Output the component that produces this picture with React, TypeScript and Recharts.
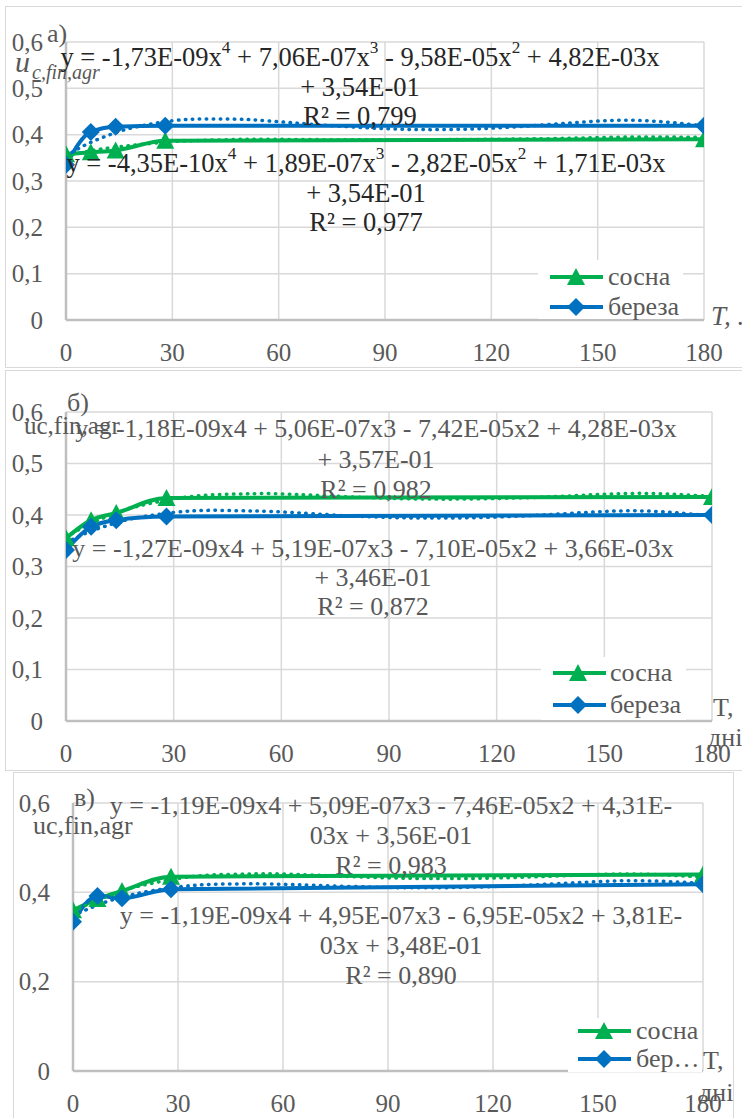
import React from 'react';
import { LineChart, Line, XAxis, YAxis, CartesianGrid, Legend } from 'recharts';

// ---------- data ----------
const days = [0, 7, 14, 28, 180];
const trendDays = [0, 5, 10, 15, 20, 30, 40, 50, 60, 80, 100, 120, 140, 160, 180];
const xTicks = [0, 30, 60, 90, 120, 150, 180];
const yTicksFine = [0, 0.1, 0.2, 0.3, 0.4, 0.5, 0.6];
const yTicksCoarse = [0, 0.2, 0.4, 0.6];
const seriesNames = ['сосна', 'береза'];
const seriesNamesC = ['сосна', 'бер…'];

// panel a)
const pineA = [0.358, 0.362, 0.366, 0.387, 0.39];
const birchA = [0.335, 0.406, 0.417, 0.419, 0.419];
const pineTrendA = [0.354, 0.362, 0.369, 0.374, 0.378, 0.385, 0.388, 0.39, 0.39, 0.389, 0.389, 0.39, 0.392, 0.395, 0.394];
const birchTrendA = [0.354, 0.376, 0.393, 0.407, 0.417, 0.43, 0.434, 0.433, 0.428, 0.417, 0.411, 0.414, 0.424, 0.431, 0.419];
// panel б)
const pineB = [0.355, 0.39, 0.404, 0.433, 0.435];
const birchB = [0.332, 0.377, 0.39, 0.397, 0.4];
const pineTrendB = [0.357, 0.377, 0.393, 0.406, 0.417, 0.431, 0.439, 0.441, 0.441, 0.435, 0.431, 0.432, 0.437, 0.442, 0.436];
const birchTrendB = [0.346, 0.363, 0.376, 0.387, 0.395, 0.405, 0.409, 0.408, 0.406, 0.398, 0.394, 0.396, 0.403, 0.408, 0.398];
// panel в)
const pineC = [0.36, 0.385, 0.403, 0.435, 0.44];
const birchC = [0.334, 0.392, 0.387, 0.407, 0.418];
const pineTrendC = [0.356, 0.376, 0.392, 0.406, 0.416, 0.431, 0.439, 0.441, 0.441, 0.435, 0.431, 0.432, 0.437, 0.441, 0.434];
const birchTrendC = [0.348, 0.365, 0.38, 0.391, 0.4, 0.412, 0.418, 0.419, 0.418, 0.413, 0.41, 0.413, 0.42, 0.426, 0.42];

// trendline equation labels
const eqBirchA = ['y = -1,73E-09x^4 + 7,06E-07x^3 - 9,58E-05x^2 + 4,82E-03x', '+ 3,54E-01', 'R² = 0,799'];
const eqPineA = ['y = -4,35E-10x^4 + 1,89E-07x^3 - 2,82E-05x^2 + 1,71E-03x', '+ 3,54E-01', 'R² = 0,977'];
const eqPineB = ['y = -1,18E-09x4 + 5,06E-07x3 - 7,42E-05x2 + 4,28E-03x', '+ 3,57E-01', 'R² = 0,982'];
const eqBirchB = ['y = -1,27E-09x4 + 5,19E-07x3 - 7,10E-05x2 + 3,66E-03x', '+ 3,46E-01', 'R² = 0,872'];
const eqPineC = ['y = -1,19E-09x4 + 5,09E-07x3 - 7,46E-05x2 + 4,31E-', '03x + 3,56E-01', 'R² = 0,983'];
const eqBirchC = ['y = -1,19E-09x4 + 4,95E-07x3 - 6,95E-05x2 + 3,81E-', '03x + 3,48E-01', 'R² = 0,890'];

// ---------- styles ----------
const GREEN = '#00B050';
const BLUE = '#0070C0';
const GRAY = '#595959';
const FONT = '"Liberation Serif", "Times New Roman", serif';

const toRows = (xs: number[], ys: number[]) => xs.map((x, i) => ({ x, y: ys[i] }));
const fmt = (v: number) => (v === 0 ? '0' : v.toFixed(1).replace('.', ','));

const triPath = (cx: number, cy: number) => `M${cx},${cy - 9} L${cx + 9},${cy + 8} L${cx - 9},${cy + 8} Z`;
const diaPath = (cx: number, cy: number) => `M${cx},${cy - 9} L${cx + 9},${cy} L${cx},${cy + 9} L${cx - 9},${cy} Z`;

const TriDot = (p: any) => {
  if (p.cx == null || p.cy == null) return <g key={p.key} />;
  return <path key={p.key} d={triPath(p.cx, p.cy)} fill={GREEN} />;
};
const DiaDot = (p: any) => {
  if (p.cx == null || p.cy == null) return <g key={p.key} />;
  return <path key={p.key} d={diaPath(p.cx, p.cy)} fill={BLUE} />;
};

const XTick = (p: any) => (
  <text x={p.x} y={p.y} dy={18} textAnchor="middle" fontFamily={FONT} fontSize={25} fill={GRAY}>
    {String(p.payload.value)}
  </text>
);
const YTick = (p: any) => (
  <text x={p.x} y={p.y} dy={8.5} textAnchor="end" fontFamily={FONT} fontSize={25} fill={GRAY}>
    {fmt(p.payload.value)}
  </text>
);

type LegendCfg = { left: number; top: number; width: number; height: number; rows: number[]; x1: number; x2: number; mx: number; tx: number };

const LegendBody = ({ cfg, names }: { cfg: LegendCfg; names: string[] }) => (
  <svg width={cfg.width} height={cfg.height} style={{ display: 'block', overflow: 'visible' }}>
    {[0, 1].map((i) => (
      <g key={i}>
        <line x1={cfg.x1} x2={cfg.x2} y1={cfg.rows[i]} y2={cfg.rows[i]} stroke={i === 0 ? GREEN : BLUE} strokeWidth={4} />
        <path d={i === 0 ? triPath(cfg.mx, cfg.rows[i]) : diaPath(cfg.mx, cfg.rows[i])} fill={i === 0 ? GREEN : BLUE} />
        <text x={cfg.tx} y={cfg.rows[i]} dy={8} fontFamily={FONT} fontSize={26} fill={GRAY}>
          {names[i]}
        </text>
      </g>
    ))}
  </svg>
);

type PanelProps = {
  top: number;
  height: number;
  yAxisWidth: number;
  marginTop: number;
  marginRight: number;
  xAxisHeight: number;
  yTicks: number[];
  pine: number[];
  birch: number[];
  pineTrend: number[];
  birchTrend: number[];
  legend: LegendCfg;
  names: string[];
};

const Panel = (p: PanelProps) => (
  <div style={{ position: 'absolute', left: 0, top: p.top }}>
    <LineChart width={742} height={p.height} margin={{ top: p.marginTop, right: p.marginRight, bottom: 0, left: 0 }}>
      <CartesianGrid stroke="#d9d9d9" strokeWidth={1.5} />
      <XAxis
        dataKey="x"
        type="number"
        domain={[0, 180]}
        ticks={xTicks}
        interval={0}
        height={p.xAxisHeight}
        tickSize={0}
        tickMargin={23}
        tickLine={false}
        axisLine={{ stroke: '#bfbfbf', strokeWidth: 2.5 }}
        tick={<XTick />}
        allowDataOverflow
      />
      <YAxis
        type="number"
        domain={[0, 0.6]}
        ticks={p.yTicks}
        interval={0}
        width={p.yAxisWidth}
        tickSize={0}
        tickMargin={23}
        tickLine={false}
        axisLine={{ stroke: '#bfbfbf', strokeWidth: 2.5 }}
        tick={<YTick />}
        allowDataOverflow
      />
      <Line data={toRows(days, p.pine)} dataKey="y" name={p.names[0]} type="monotone" stroke={GREEN} strokeWidth={4} dot={TriDot} activeDot={false} isAnimationActive={false} />
      <Line data={toRows(days, p.birch)} dataKey="y" name={p.names[1]} type="monotone" stroke={BLUE} strokeWidth={4} dot={DiaDot} activeDot={false} isAnimationActive={false} />
      <Line data={toRows(trendDays, p.pineTrend)} dataKey="y" legendType="none" type="natural" stroke={GREEN} strokeWidth={3.5} strokeDasharray="0.5 6.5" strokeLinecap="round" dot={false} activeDot={false} isAnimationActive={false} />
      <Line data={toRows(trendDays, p.birchTrend)} dataKey="y" legendType="none" type="natural" stroke={BLUE} strokeWidth={3.5} strokeDasharray="0.5 6.5" strokeLinecap="round" dot={false} activeDot={false} isAnimationActive={false} />
      <Legend
        layout="vertical"
        align="center"
        verticalAlign="middle"
        wrapperStyle={{ left: p.legend.left, top: p.legend.top, width: p.legend.width, height: p.legend.height, background: '#fff', lineHeight: 0 }}
        content={() => <LegendBody cfg={p.legend} names={p.names} />}
      />
    </LineChart>
  </div>
);

const EqLine = ({ x, y, text, fill, size }: { x: number; y: number; text: string; fill: string; size: number }) => {
  const parts = text.split(/\^(\d)/);
  const kids: React.ReactNode[] = [];
  let raised = false;
  parts.forEach((part, i) => {
    if (i % 2 === 1) {
      kids.push(
        <tspan key={i} fontSize={size * 0.65} dy={-size * 0.36}>
          {part}
        </tspan>
      );
      raised = true;
    } else if (part.length) {
      kids.push(
        <tspan key={i} dy={raised ? size * 0.36 : 0}>
          {part}
        </tspan>
      );
      raised = false;
    }
  });
  return (
    <text x={x} y={y} textAnchor="middle" dominantBaseline="central" fontFamily={FONT} fontSize={size} fill={fill}>
      {kids}
    </text>
  );
};

const EqBlock = ({ x, ys, lines, fill, size = 26 }: { x: number; ys: number[]; lines: string[]; fill: string; size?: number }) => (
  <g>
    {lines.map((l, i) => (
      <EqLine key={i} x={x} y={ys[i]} text={l} fill={fill} size={size} />
    ))}
  </g>
);

const T = ({ x, y, children, size = 26, italic = false, fill = GRAY }: any) => (
  <text x={x} y={y} dominantBaseline="central" fontFamily={FONT} fontSize={size} fontStyle={italic ? 'italic' : 'normal'} fill={fill}>
    {children}
  </text>
);

export default function App() {
  return (
    <div style={{ position: 'absolute', left: 0, top: 0, width: 742, height: 1118, background: '#fff', overflow: 'hidden' }}>
      {/* panel frames */}
      <div style={{ position: 'absolute', left: 5, top: 6, width: 760, height: 362, border: '1.5px solid #d9d9d9', boxSizing: 'border-box' }} />
      <div style={{ position: 'absolute', left: 5, top: 370, width: 760, height: 401, border: '1.5px solid #d9d9d9', boxSizing: 'border-box' }} />
      <div style={{ position: 'absolute', left: 13, top: 772, width: 721, height: 360, border: '1.5px solid #d9d9d9', boxSizing: 'border-box' }} />

      <Panel
        top={0}
        height={370}
        yAxisWidth={66}
        marginTop={42}
        marginRight={38}
        xAxisHeight={50}
        yTicks={yTicksFine}
        pine={pineA}
        birch={birchA}
        pineTrend={pineTrendA}
        birchTrend={birchTrendA}
        names={seriesNames}
        legend={{ left: 538, top: 260, width: 145, height: 59, rows: [17, 47], x1: 12, x2: 65, mx: 38, tx: 70 }}
      />
      <Panel
        top={370}
        height={401}
        yAxisWidth={66}
        marginTop={42}
        marginRight={30}
        xAxisHeight={50}
        yTicks={yTicksFine}
        pine={pineB}
        birch={birchB}
        pineTrend={pineTrendB}
        birchTrend={birchTrendB}
        names={seriesNames}
        legend={{ left: 541, top: 287, width: 145, height: 63, rows: [16, 48], x1: 12, x2: 65, mx: 37, tx: 69 }}
      />
      <Panel
        top={772}
        height={346}
        yAxisWidth={73}
        marginTop={31}
        marginRight={39}
        xAxisHeight={47}
        yTicks={yTicksCoarse}
        pine={pineC}
        birch={birchC}
        pineTrend={pineTrendC}
        birchTrend={birchTrendC}
        names={seriesNamesC}
        legend={{ left: 568, top: 246, width: 134, height: 54, rows: [13, 41], x1: 10, x2: 63, mx: 36, tx: 68 }}
      />

      {/* text overlay */}
      <svg width={742} height={1118} style={{ position: 'absolute', left: 0, top: 0, pointerEvents: 'none' }}>
        {/* panel a */}
        <T x={47} y={33}>a)</T>
        <text x={15} y={72} fontFamily={FONT} fontSize={30} fontStyle="italic" fill={GRAY}>u</text>
        <text x={32} y={79} fontFamily={FONT} fontSize={20} fontStyle="italic" fill={GRAY}>c,fin,agr</text>
        <EqBlock x={360} ys={[57, 86.5, 116]} lines={eqBirchA} fill="#262626" size={26.5} />
        <EqBlock x={366} ys={[163, 192.5, 222]} lines={eqPineA} fill="#262626" size={26.5} />
        <T x={711} y={316} size={27} italic>T, .</T>

        {/* panel б */}
        <T x={67} y={402}>б)</T>
        <T x={24} y={425} size={25}>uc,fin,agr</T>
        <EqBlock x={376} ys={[428, 459, 489]} lines={eqPineB} fill={GRAY} />
        <EqBlock x={373} ys={[548, 577, 606]} lines={eqBirchB} fill={GRAY} />
        <T x={713} y={707}>T,</T>
        <T x={708} y={737}>дні</T>

        {/* panel в */}
        <T x={74} y={797}>в)</T>
        <T x={33} y={825}>uc,fin,agr</T>
        <EqBlock x={391} ys={[805, 835, 865]} lines={eqPineC} fill={GRAY} />
        <EqBlock x={401} ys={[915, 945, 975]} lines={eqBirchC} fill={GRAY} />
        <T x={703} y={1060}>T,</T>
        <T x={699} y={1092}>дні</T>
      </svg>
    </div>
  );
}
